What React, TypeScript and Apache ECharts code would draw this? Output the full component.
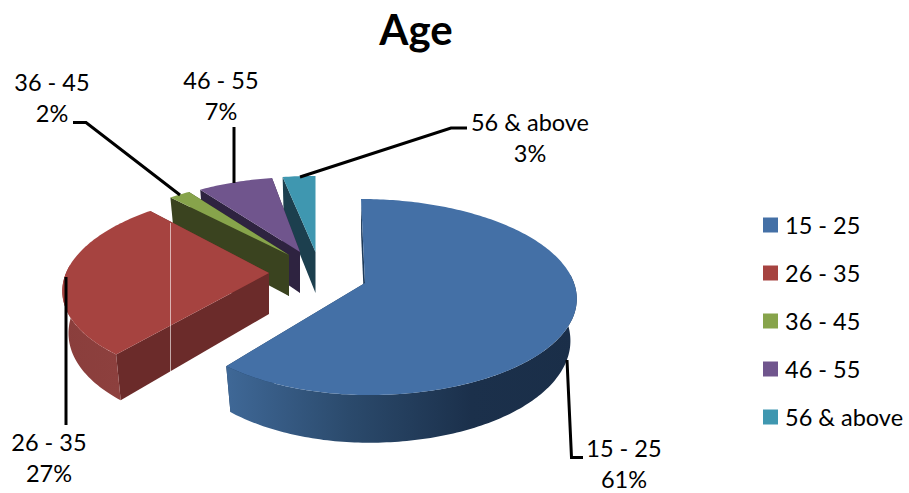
import React, { useEffect, useRef } from "react";
import * as echarts from "echarts";

// Age distribution, in percent
const categories = ["15 - 25", "26 - 35", "36 - 45", "46 - 55", "56 & above"];
const shares = [61, 27, 2, 7, 3];

const FONT = "Lato, Carlito, Calibri, sans-serif";
const LABEL_SIZE = 23.5;
const topColors = ["#4470a6", "#a64340", "#87a44b", "#70558d", "#3f97b0"];
const cutColors = ["#1d3a5a", "#6b2b2a", "#3a431f", "#2e2340", "#1c3f4e"];

// Pseudo-3D projection for each exploded wedge
type Wedge = {
  ax: number; ay: number; rxR: number; rxL: number; ry: number; skew: number;
  rim: any; guide: number[][]; labelX: number; labelY: number;
};
const PERSPECTIVE = 0.143;
const DEPTH = 41;
const WALL_KX = 0.97;
const WALL_KY = 1.06;

const rimFill = (stops: [number, string][]) =>
  new echarts.graphic.LinearGradient(0, 0, 1, 0, stops.map(([offset, color]) => ({ offset, color })));

const wedges: Wedge[] = [
  {
    ax: 365, ay: 283, rxR: 209, rxL: 198, ry: 96, skew: -4,
    rim: rimFill([[0, "#3f6897"], [0.35, "#2b4a6c"], [0.7, "#1b304b"], [1, "#1a2e48"]]),
    guide: [[567, 360], [571.5, 457.5], [583, 457.5]], labelX: 624, labelY: 448,
  },
  {
    ax: 269, ay: 273, rxR: 203, rxL: 203, ry: 94, skew: 9.7,
    rim: rimFill([[0, "#8a3e3c"], [1, "#8d403e"]]),
    guide: [[66, 277], [66, 425]], labelX: 49, labelY: 442,
  },
  {
    ax: 289, ay: 255, rxR: 196, rxL: 196, ry: 87, skew: 4,
    rim: "#5c7030",
    guide: [[73, 122.5], [86, 122.5], [180, 195]], labelX: 52, labelY: 82,
  },
  {
    ax: 300, ay: 252, rxR: 196, rxL: 196, ry: 86, skew: 4.3,
    rim: "#4b3a60",
    guide: [[234, 127], [234, 183]], labelX: 221, labelY: 80,
  },
  {
    ax: 315.5, ay: 252, rxR: 200, rxL: 200, ry: 87, skew: 0,
    rim: "#2a6577",
    guide: [[300, 177], [451, 128], [467, 128]], labelX: 530, labelY: 122,
  },
];

const topPoint = (w: Wedge, deg: number) => {
  const t = (deg * Math.PI) / 180;
  const depth = Math.cos(t);
  const s = 1 / (1 + PERSPECTIVE * depth);
  const sin = Math.sin(t);
  return [
    w.ax + sin * (sin >= 0 ? w.rxR : w.rxL) * s + w.skew * depth,
    w.ay - depth * w.ry * s,
  ];
};

const wallPoint = (w: Wedge, p: number[]) => [
  w.ax + (p[0] - w.ax) * WALL_KX,
  w.ay + DEPTH + (p[1] - w.ay) * WALL_KY,
];

const arc = (w: Wedge, from: number, to: number) => {
  const pts: number[][] = [];
  const n = Math.max(2, Math.ceil(Math.abs(to - from)));
  for (let i = 0; i <= n; i++) pts.push(topPoint(w, from + ((to - from) * i) / n));
  return pts;
};

const total = shares.reduce((a, b) => a + b, 0);

const wedgeRenderer = (index: number) => (_params: any, api: any) => {
  const value = api.value(0);
  const startShare = shares.slice(0, index).reduce((a, b) => a + b, 0);
  const from = (startShare / total) * 360;
  const to = from + (value / total) * 360;
  const w = wedges[index];
  const apex = [w.ax, w.ay];
  const apexLow = wallPoint(w, apex);
  const children: any[] = [];

  const cut = (deg: number) => {
    const rim = topPoint(w, deg);
    return {
      type: "polygon",
      shape: { points: [apex, rim, wallPoint(w, rim), apexLow] },
      style: { fill: cutColors[index] },
    };
  };
  children.push(cut(to), cut(from));

  // Outer wall: only the part of the rim facing the viewer
  const a = Math.max(from, 85);
  const b = Math.min(to, 275);
  if (b > a) {
    const upper = arc(w, a, b);
    const lower = upper.map((p) => wallPoint(w, p)).reverse();
    children.push({
      type: "polygon",
      shape: { points: [...upper, ...lower] },
      style: { fill: w.rim },
    });
  }

  children.push({
    type: "polygon",
    shape: { points: [apex, ...arc(w, from, to)] },
    style: { fill: topColors[index] },
  });

  if (index === 1) {
    children.push({
      type: "line",
      shape: { x1: 170.5, y1: 223, x2: 170.5, y2: 373 },
      style: { stroke: "rgba(255,255,255,0.6)", lineWidth: 1 },
    });
  }

  children.push({
    type: "polyline",
    shape: { points: w.guide },
    style: { stroke: "#000", lineWidth: 3, fill: "none" },
  });
  children.push(
    {
      type: "text",
      style: {
        x: w.labelX, y: w.labelY, text: categories[index], fill: "#000",
        font: `${LABEL_SIZE}px ${FONT}`, align: "center", verticalAlign: "middle",
      },
    },
    {
      type: "text",
      style: {
        x: w.labelX, y: w.labelY + 31, text: `${value}%`, fill: "#000",
        font: `${LABEL_SIZE}px ${FONT}`, align: "center", verticalAlign: "middle",
      },
    }
  );
  return { type: "group", children };
};

export default function App() {
  const ref = useRef<HTMLDivElement>(null);
  useEffect(() => {
    const chart = echarts.init(ref.current!, undefined, { renderer: "svg" });
    chart.setOption({
      animation: false,
      backgroundColor: "#fff",
      title: {
        text: "Age",
        left: 411,
        top: 3,
        textAlign: "center",
        textStyle: { fontFamily: FONT, fontSize: 42, fontWeight: "bold", color: "#000" },
      },
      legend: {
        orient: "vertical",
        left: 758,
        top: 208,
        data: categories,
        icon: "rect",
        itemWidth: 15,
        itemHeight: 15,
        itemGap: 24,
        selectedMode: false,
        textStyle: { fontFamily: FONT, fontSize: LABEL_SIZE, lineHeight: 24, color: "#000", padding: [0, 0, 0, 2] },
      },
      series: categories.map((name, i) => ({
        type: "custom",
        name,
        coordinateSystem: "none",
        silent: true,
        z: 10 - i,
        color: topColors[i],
        itemStyle: { color: topColors[i] },
        renderItem: wedgeRenderer(i),
        data: [[shares[i]]],
      })),
    });
    return () => chart.dispose();
  }, []);
  return (
    <div
      ref={ref}
      style={{ position: "absolute", left: 0, top: 0, width: 909, height: 493 }}
    />
  );
}
